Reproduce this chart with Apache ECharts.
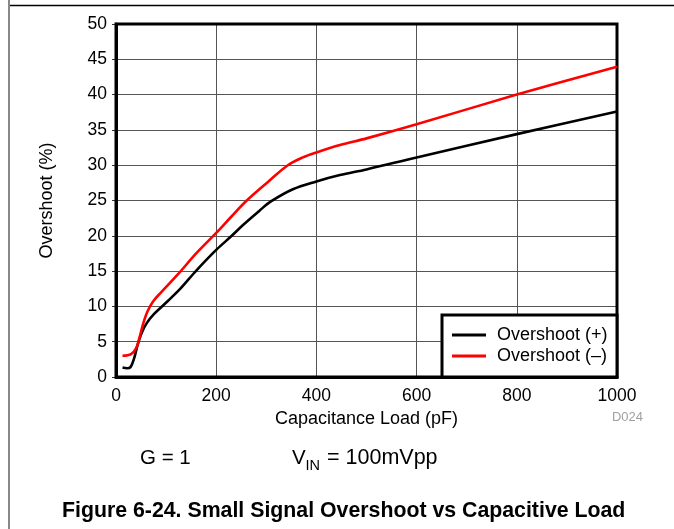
<!DOCTYPE html>
<html>
<head>
<meta charset="utf-8">
<script src="https://cdn.jsdelivr.net/npm/echarts@6/dist/echarts.min.js"></script>
<style>
html,body{margin:0;padding:0;background:#fff;}
#c{width:674px;height:529px;}
</style>
</head>
<body>
<div id="c"></div>
<script>
// Data
var xTicks = [0, 200, 400, 600, 800, 1000];
var yTicks = [0, 5, 10, 15, 20, 25, 30, 35, 40, 45, 50];
var posCap = [13, 22, 29, 36, 43, 51, 61, 77, 104, 127, 158, 200, 231, 253, 287, 310, 353, 400, 447, 500, 600, 800, 1000];
var posVal = [1.35, 1.25, 1.4, 2.6, 4.5, 6.2, 7.6, 9.0, 10.8, 12.4, 14.9, 18.0, 20.0, 21.5, 23.6, 24.9, 26.6, 27.7, 28.6, 29.4, 31.1, 34.4, 37.6];
var negCap = [13, 30, 40, 47, 54, 63, 74, 90, 123, 160, 200, 230, 261, 306, 343, 373, 400, 447, 500, 600, 800, 1000];
var negVal = [3.0, 3.25, 4.05, 5.6, 7.5, 9.3, 10.7, 12.0, 14.5, 17.5, 20.4, 22.7, 25.0, 27.8, 30.0, 31.1, 31.8, 32.85, 33.8, 35.8, 40.0, 43.95];
var seriesNames = ['Overshoot (+)', 'Overshoot (\u2013)'];

function pairs(xs, ys) { return xs.map(function (x, i) { return [x, ys[i]]; }); }

var FONT = '"Liberation Sans", Arial, sans-serif';
var chart = echarts.init(document.getElementById('c'), null, {renderer: 'canvas'});
chart.setOption({
  animation: false,
  backgroundColor: '#fff',
  grid: {left: 116, right: 57, top: 24, bottom: 152, show: true, borderColor: '#000', borderWidth: 3, z: 3},
  xAxis: {
    type: 'value', min: 0, max: 1000, interval: 200,
    name: 'Capacitance Load (pF)', nameLocation: 'middle', nameGap: 33,
    nameTextStyle: {fontFamily: FONT, fontSize: 18, color: '#000'},
    axisLine: {show: true, lineStyle: {color: '#000', width: 3}},
    axisTick: {show: false},
    axisLabel: {fontFamily: FONT, fontSize: 17.5, color: '#000', margin: 10,
      formatter: function (v) { return xTicks.indexOf(v) >= 0 ? String(v) : ''; }},
    splitLine: {show: true, lineStyle: {color: '#555', width: 1}}
  },
  yAxis: {
    type: 'value', min: 0, max: 50, interval: 5,
    name: 'Overshoot (%)', nameLocation: 'middle', nameGap: 60,
    nameTextStyle: {fontFamily: FONT, fontSize: 18, color: '#000'},
    axisLine: {show: true, lineStyle: {color: '#000', width: 3}},
    axisTick: {show: true, length: 4, lineStyle: {color: '#333', width: 1}},
    axisLabel: {fontFamily: FONT, fontSize: 17.5, color: '#000', margin: 9,
      formatter: function (v) { return yTicks.indexOf(v) >= 0 ? String(v) : ''; }},
    splitLine: {show: true, lineStyle: {color: '#555', width: 1}}
  },
  legend: {
    orient: 'vertical', left: 452, top: 326, itemGap: 3,
    itemWidth: 34, itemHeight: 3, icon: 'rect', padding: 0, z: 10,
    textStyle: {fontFamily: FONT, fontSize: 18, color: '#000', padding: [0, 0, 0, 6]},
    data: seriesNames
  },
  graphic: [
    {type: 'line', shape: {x1: 8, y1: 5.5, x2: 674, y2: 5.5}, style: {stroke: '#000', lineWidth: 1.5}, z: 1},
    {type: 'line', shape: {x1: 9, y1: 0, x2: 9, y2: 529}, style: {stroke: '#888', lineWidth: 2}, z: 1},
    {type: 'rect', shape: {x: 442, y: 315, width: 175, height: 62}, style: {fill: '#fff', stroke: '#000', lineWidth: 3}, z: 9},
    {type: 'text', right: 31, top: 411, style: {text: 'D024', font: '13px ' + FONT, fill: '#a0a0a0'}},
    {type: 'text', left: 140, top: 448, style: {text: 'G = 1', font: '20.5px ' + FONT, fill: '#000'}},
    {type: 'text', left: 292, top: 448, style: {text: 'V', font: '20.5px ' + FONT, fill: '#000'}},
    {type: 'text', left: 305.5, top: 458, style: {text: 'IN', font: '14.5px ' + FONT, fill: '#000'}},
    {type: 'text', left: 327, top: 447, style: {text: '= 100mVpp', font: '21.5px ' + FONT, fill: '#000'}},
    {type: 'text', left: 62, top: 501, style: {text: 'Figure 6-24. Small Signal Overshoot vs Capacitive Load', font: 'bold 21.3px ' + FONT, fill: '#000'}}
  ],
  series: [
    {name: seriesNames[0], type: 'line', data: pairs(posCap, posVal), smooth: 0.35, showSymbol: false,
      lineStyle: {color: '#000', width: 2.6}, itemStyle: {color: '#000'}, z: 5},
    {name: seriesNames[1], type: 'line', data: pairs(negCap, negVal), smooth: 0.35, showSymbol: false,
      lineStyle: {color: '#ff0000', width: 2.6}, itemStyle: {color: '#ff0000'}, z: 5}
  ]
});
</script>
</body>
</html>
